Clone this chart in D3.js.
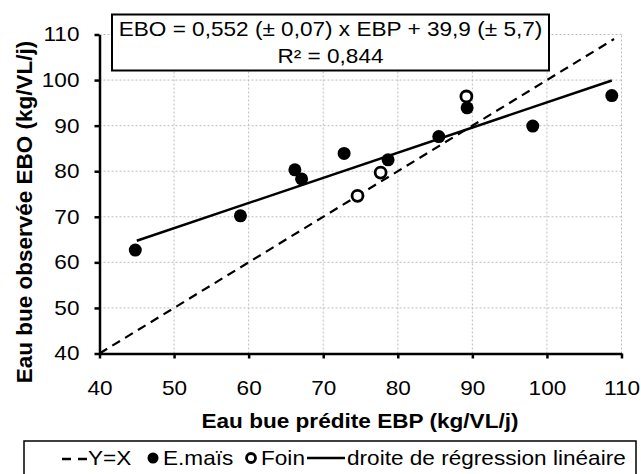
<!DOCTYPE html>
<html lang="fr">
<head>
<meta charset="UTF-8">
<title>EBO vs EBP</title>
<script src="https://cdnjs.cloudflare.com/ajax/libs/d3/7.8.5/d3.min.js"></script>
<style>
  body { margin: 0; background: #fff; }
  svg { display: block; font-family: "Liberation Sans", Arial, sans-serif; }
  .grid line { stroke: #bdbdbd; stroke-width: 1; stroke-dasharray: 2,2; }
  .axis path, .axis line { stroke: #000; stroke-width: 2.5; }
  .axis text { font-size: 20px; fill: #000; }
</style>
</head>
<body>
<svg id="chart" width="641" height="474"></svg>
<script>
// data
var maisX = [44.8, 58.9, 66.2, 67.1, 72.8, 78.7, 85.5, 89.3, 98.1, 108.7];
var maisY = [62.7, 70.2, 80.3, 78.3, 83.9, 82.5, 87.6, 93.9, 89.9, 96.6];
var foinX = [74.6, 77.7, 89.2];
var foinY = [74.6, 79.7, 96.4];
var regSlope = 0.552, regIntercept = 39.9;
var regRange = [45, 108.7];
var idRange = [40, 109];
var ticks = [40, 50, 60, 70, 80, 90, 100, 110];
var eqLines = ["EBO = 0,552 (\u00b1 0,07) x EBP + 39,9 (\u00b1 5,7)", "R\u00b2 = 0,844"];
var legendLabels = ["Y=X", "E.ma\u00efs", "Foin", "droite de r\u00e9gression lin\u00e9aire"];

var SX = 1.13; // the picture's text looks stretched sideways

var svg = d3.select("#chart");
var x = d3.scaleLinear().domain([40, 110]).range([99.5, 621.5]);
var y = d3.scaleLinear().domain([40, 110]).range([353.5, 34.5]);

// grid
var grid = svg.append("g").attr("class", "grid");
grid.selectAll(".v").data(ticks.slice(1)).enter().append("line")
  .attr("x1", d => x(d)).attr("x2", d => x(d))
  .attr("y1", y(40)).attr("y2", y(110));
grid.selectAll(".h").data(ticks.slice(1)).enter().append("line")
  .attr("x1", x(40)).attr("x2", x(110))
  .attr("y1", d => y(d)).attr("y2", d => y(d));

// stretch text sideways around its anchor
function stretch(sel) {
  sel.each(function() {
    var t = d3.select(this);
    var tx = +t.attr("x") || 0;
    t.attr("x", 0).attr("transform", "translate(" + tx + ",0) scale(" + SX + ",1)");
  });
}

// axes
var gx = svg.append("g").attr("class", "axis")
  .attr("transform", "translate(0," + y(40) + ")")
  .call(d3.axisBottom(x).tickValues(ticks).tickSizeInner(5).tickSizeOuter(0).tickPadding(22));
gx.selectAll("text").call(stretch);

var gy = svg.append("g").attr("class", "axis")
  .attr("transform", "translate(" + x(40) + ",0)")
  .call(d3.axisLeft(y).tickValues(ticks).tickSizeInner(5).tickSizeOuter(0).tickPadding(15));
gy.selectAll("text").call(stretch);

// axis titles
svg.append("text")
  .attr("transform", "translate(360,428) scale(" + SX + ",1)")
  .attr("text-anchor", "middle")
  .style("font-size", "20px").style("font-weight", "bold")
  .text("Eau bue pr\u00e9dite EBP (kg/VL/j)");

svg.append("text")
  .attr("transform", "translate(32,212) rotate(-90)")
  .attr("text-anchor", "middle")
  .style("font-size", "22.5px").style("font-weight", "bold")
  .text("Eau bue observ\u00e9e EBO (kg/VL/j)");

// Y = X
var line = d3.line().x(d => x(d[0])).y(d => y(d[1]));
svg.append("path")
  .datum(idRange.map(v => [v, v]))
  .attr("d", line)
  .attr("fill", "none").attr("stroke", "#000")
  .attr("stroke-width", 2.2).attr("stroke-dasharray", "9,6");

// regression line
svg.append("path")
  .datum(regRange.map(v => [v, regSlope * v + regIntercept]))
  .attr("d", line)
  .attr("fill", "none").attr("stroke", "#000").attr("stroke-width", 2.5);

// points
svg.selectAll(".mais").data(maisX).enter().append("circle")
  .attr("cx", d => x(d)).attr("cy", (d, i) => y(maisY[i]))
  .attr("r", 6.5).attr("fill", "#000");

svg.selectAll(".foin").data(foinX).enter().append("circle")
  .attr("cx", d => x(d)).attr("cy", (d, i) => y(foinY[i]))
  .attr("r", 5.5).attr("fill", "#fff").attr("stroke", "#000").attr("stroke-width", 2.8);

// equation box
svg.append("rect")
  .attr("x", 112).attr("y", 14.5).attr("width", 437).attr("height", 56)
  .attr("fill", "#fff").attr("stroke", "#000").attr("stroke-width", 2);
svg.selectAll(".eq").data(eqLines).enter().append("text")
  .attr("transform", (d, i) => "translate(330.5," + (36 + i * 27) + ") scale(" + SX + ",1)")
  .attr("text-anchor", "middle")
  .style("font-size", "20px")
  .text(d => d);

// legend
var lg = svg.append("g");
lg.append("rect")
  .attr("x", 24).attr("y", 441).attr("width", 612).attr("height", 50)
  .attr("fill", "#fff").attr("stroke", "#000").attr("stroke-width", 1.5);
lg.append("line").attr("x1", 62).attr("x2", 71).attr("y1", 459).attr("y2", 459)
  .attr("stroke", "#000").attr("stroke-width", 2.5);
lg.append("line").attr("x1", 78).attr("x2", 87).attr("y1", 459).attr("y2", 459)
  .attr("stroke", "#000").attr("stroke-width", 2.5);
lg.append("circle").attr("cx", 153).attr("cy", 458).attr("r", 5.5).attr("fill", "#000");
lg.append("circle").attr("cx", 251).attr("cy", 458).attr("r", 4.5)
  .attr("fill", "#fff").attr("stroke", "#000").attr("stroke-width", 2.8);
lg.append("line").attr("x1", 307).attr("x2", 345).attr("y1", 458).attr("y2", 458)
  .attr("stroke", "#000").attr("stroke-width", 2.5);
var legX = [88, 163, 261, 347];
lg.selectAll(".lt").data(legendLabels).enter().append("text")
  .attr("transform", (d, i) => "translate(" + legX[i] + ",465) scale(" + SX + ",1)")
  .style("font-size", "20px")
  .text(d => d);
</script>
</body>
</html>
